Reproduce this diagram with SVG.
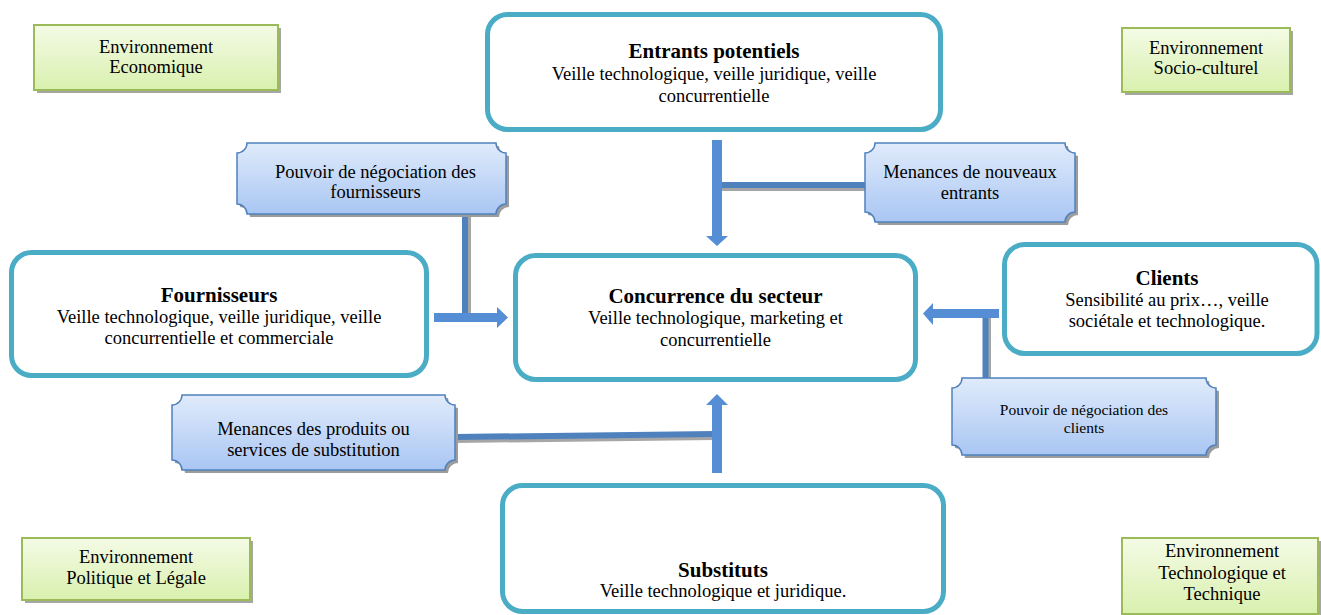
<svg xmlns="http://www.w3.org/2000/svg" width="1321" height="615" viewBox="0 0 1321 615">
  <style>
    text { font-family: "Liberation Serif", "Times New Roman", serif; fill: #000; text-anchor: middle; }
    .t { font-size: 21px; font-weight: bold; }
    .b { font-size: 18.5px; }
    .s { font-size: 15.5px; }
    .box { fill: #fff; stroke: #4BACC6; stroke-width: 5; }
    .env { fill: url(#gGreen); stroke: #9BBB59; stroke-width: 2; }
    .envsh { fill: #A6A6A6; }
    .plq { fill: url(#gBlue); stroke: #4F81BD; stroke-width: 1.5; }
    .plqsh { fill: #9C9C9C; }
    .arrow { fill: #558ED5; }
    .stem { stroke: #4F81BD; stroke-width: 6; fill: none; }
    .stemsh { stroke: #A6A6A6; stroke-width: 6; fill: none; }
  </style>
  <defs>
    <linearGradient id="gGreen" x1="0" y1="0" x2="0" y2="1">
      <stop offset="0" stop-color="#F4FBE6"/>
      <stop offset="1" stop-color="#D9F0AE"/>
    </linearGradient>
    <linearGradient id="gBlue" x1="0" y1="0" x2="0" y2="1">
      <stop offset="0" stop-color="#E0EBFB"/>
      <stop offset="1" stop-color="#A9C6F3"/>
    </linearGradient>
  </defs>

  <!-- environment labels -->
  <g id="env-economique">
    <rect class="envsh" x="37" y="28" width="244" height="65"/>
    <rect class="env" x="34" y="25" width="244" height="65"/>
    <text class="b" x="156" y="53">Environnement</text>
    <text class="b" x="156" y="73">Economique</text>
  </g>
  <g id="env-socio">
    <rect class="envsh" x="1125" y="31" width="168" height="64"/>
    <rect class="env" x="1122" y="28" width="168" height="64"/>
    <text class="b" x="1206" y="54">Environnement</text>
    <text class="b" x="1206" y="74">Socio-culturel</text>
  </g>
  <g id="env-politique">
    <rect class="envsh" x="25" y="541" width="228" height="62"/>
    <rect class="env" x="22" y="538" width="228" height="62"/>
    <text class="b" x="136" y="563">Environnement</text>
    <text class="b" x="136" y="584">Politique et Légale</text>
  </g>
  <g id="env-technologique">
    <rect class="envsh" x="1125" y="541" width="196" height="76"/>
    <rect class="env" x="1122" y="538" width="196" height="76"/>
    <text class="b" x="1222" y="557">Environnement</text>
    <text class="b" x="1222" y="579">Technologique et</text>
    <text class="b" x="1222" y="600">Technique</text>
  </g>

  <!-- connectors: stems with shadow, then block arrows -->
  <g id="connectors">
    <line class="stemsh" x1="468" y1="214" x2="468" y2="316"/>
    <line class="stem" x1="465" y1="212" x2="465" y2="314"/>
    <line class="stemsh" x1="722" y1="188" x2="866" y2="188"/>
    <line class="stem" x1="720" y1="185" x2="866" y2="185"/>
    <line class="stemsh" x1="455" y1="440" x2="715" y2="437"/>
    <line class="stem" x1="455" y1="437" x2="715" y2="434"/>
    <line class="stemsh" x1="988" y1="318" x2="988" y2="380"/>
    <line class="stem" x1="985.5" y1="316" x2="985.5" y2="380"/>
    <!-- down into the sector -->
    <polygon class="arrow" points="712,140 722,140 722,236 728,236 717,246 706,236 712,236"/>
    <!-- up from the substitutes -->
    <polygon class="arrow" points="712,473 722,473 722,405 728,405 717,394 706,405 712,405"/>
    <!-- right from the suppliers -->
    <polygon class="arrow" points="434,313 497,313 497,307 508,317.5 497,328 497,322 434,322"/>
    <!-- left from the clients -->
    <polygon class="arrow" points="999,309 933,309 933,303 923,313.5 933,325 933,318 999,318"/>
  </g>

  <!-- plaques -->
  <g id="p-fournisseurs">
    <path class="plqsh" transform="translate(3,3)" d="M247,143 H496 A10,10 0 0 0 506,153 V204 A10,10 0 0 0 496,214 H247 A10,10 0 0 0 237,204 V153 A10,10 0 0 0 247,143 Z"/>
    <path class="plq" d="M247,143 H496 A10,10 0 0 0 506,153 V204 A10,10 0 0 0 496,214 H247 A10,10 0 0 0 237,204 V153 A10,10 0 0 0 247,143 Z"/>
    <text class="b" x="375.5" y="178">Pouvoir de négociation des</text>
    <text class="b" x="375.5" y="198">fournisseurs</text>
  </g>
  <g id="p-nouveaux">
    <path class="plqsh" transform="translate(3,3)" d="M875,143 H1065 A10,10 0 0 0 1075,153 V212 A10,10 0 0 0 1065,222 H875 A10,10 0 0 0 865,212 V153 A10,10 0 0 0 875,143 Z"/>
    <path class="plq" d="M875,143 H1065 A10,10 0 0 0 1075,153 V212 A10,10 0 0 0 1065,222 H875 A10,10 0 0 0 865,212 V153 A10,10 0 0 0 875,143 Z"/>
    <text class="b" x="970" y="178">Menances de nouveaux</text>
    <text class="b" x="970" y="199">entrants</text>
  </g>
  <g id="p-substitution">
    <path class="plqsh" transform="translate(3,3)" d="M182,395 H445 A10,10 0 0 0 455,405 V460 A10,10 0 0 0 445,470 H182 A10,10 0 0 0 172,460 V405 A10,10 0 0 0 182,395 Z"/>
    <path class="plq" d="M182,395 H445 A10,10 0 0 0 455,405 V460 A10,10 0 0 0 445,470 H182 A10,10 0 0 0 172,460 V405 A10,10 0 0 0 182,395 Z"/>
    <text class="b" x="313.5" y="435">Menances des produits ou</text>
    <text class="b" x="313.5" y="456">services de substitution</text>
  </g>
  <g id="p-clients">
    <path class="plqsh" transform="translate(3,3)" d="M962,378 H1206 A10,10 0 0 0 1216,388 V445 A10,10 0 0 0 1206,455 H962 A10,10 0 0 0 952,445 V388 A10,10 0 0 0 962,378 Z"/>
    <path class="plq" d="M962,378 H1206 A10,10 0 0 0 1216,388 V445 A10,10 0 0 0 1206,455 H962 A10,10 0 0 0 952,445 V388 A10,10 0 0 0 962,378 Z"/>
    <text class="s" x="1084" y="415">Pouvoir de négociation des</text>
    <text class="s" x="1084" y="433">clients</text>
  </g>

  <!-- main forces -->
  <g id="n-entrants">
    <rect class="box" x="487.5" y="14.5" width="453" height="115" rx="20"/>
    <text class="t" x="714" y="58">Entrants potentiels</text>
    <text class="b" x="714" y="80">Veille technologique, veille juridique, veille</text>
    <text class="b" x="714" y="101.5">concurrentielle</text>
  </g>
  <g id="n-fournisseurs">
    <rect class="box" x="11.5" y="252.5" width="415" height="123" rx="20"/>
    <text class="t" x="219" y="302">Fournisseurs</text>
    <text class="b" x="219" y="323">Veille technologique, veille juridique, veille</text>
    <text class="b" x="219" y="344">concurrentielle et commerciale</text>
  </g>
  <g id="n-concurrence">
    <rect class="box" x="515.5" y="255.5" width="400" height="124" rx="20"/>
    <text class="t" x="715.5" y="303">Concurrence du secteur</text>
    <text class="b" x="715.5" y="324">Veille technologique, marketing et</text>
    <text class="b" x="715.5" y="346">concurrentielle</text>
  </g>
  <g id="n-clients">
    <rect class="box" x="1004.5" y="244.5" width="312.5" height="109" rx="20"/>
    <text class="t" x="1167" y="285">Clients</text>
    <text class="b" x="1167" y="306">Sensibilité au prix…, veille</text>
    <text class="b" x="1167" y="327">sociétale et technologique.</text>
  </g>
  <g id="n-substituts">
    <rect class="box" x="502.5" y="485.5" width="441" height="126" rx="20"/>
    <text class="t" x="723" y="577">Substituts</text>
    <text class="b" x="723" y="597">Veille technologique et juridique.</text>
  </g>
</svg>
